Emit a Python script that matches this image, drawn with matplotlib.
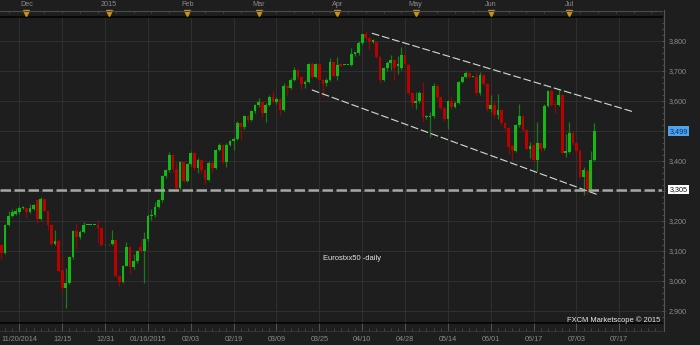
import matplotlib
matplotlib.use("Agg")
import matplotlib.pyplot as plt
import numpy as np
from matplotlib.lines import Line2D
from matplotlib.ticker import FixedLocator

# ---------------- data (daily OHLC, bar index 0 = 11/20/2014) ----------------
opens = [3120, 3094, 3187, 3217, 3224, 3231, 3243, 3243, 3230, 3241,
         3270, 3208, 3273, 3233, 3187, 3123, 3134, 3037, 2977, 2993,
         3080, 3167, 3147, 3163, 3187, 3187, 3187, 3187, 3178, 3122,
         3122, 3122, 3137, 3018, 2995, 3051, 3114, 3045, 3067, 3112,
         3100, 3140, 3217, 3220, 3248, 3270, 3350, 3370, 3420, 3373,
         3310, 3397, 3333, 3390, 3427, 3377, 3403, 3370, 3337, 3393,
         3377, 3437, 3453, 3397, 3453, 3467, 3473, 3527, 3513, 3550,
         3537, 3567, 3587, 3597, 3560, 3587, 3613, 3597, 3607, 3570,
         3650, 3643, 3670, 3703, 3680, 3657, 3664, 3723, 3680, 3723,
         3670, 3660, 3670, 3730, 3683, 3722, 3720, 3720, 3720, 3757,
         3760, 3792, 3822, 3810, 3797, 3797, 3747, 3670, 3710, 3727,
         3737, 3718, 3710, 3753, 3720, 3626, 3593, 3600, 3626, 3546,
         3547, 3549, 3651, 3612, 3576, 3540, 3600, 3580, 3593, 3664,
         3681, 3693, 3681, 3681, 3626, 3687, 3657, 3572, 3587, 3553,
         3570, 3528, 3509, 3450, 3434, 3520, 3550, 3503, 3440, 3453,
         3403, 3461, 3442, 3583, 3633, 3590, 3587, 3620, 3428, 3431,
         3494, 3460, 3434, 3348, 3368, 3306, 3403]
closes = [3094, 3187, 3217, 3230, 3233, 3243, 3246, 3230, 3243, 3253,
          3208, 3273, 3233, 3187, 3123, 3134, 3034, 2977, 2993, 3081,
          3167, 3147, 3163, 3187, 3187, 3187, 3187, 3177, 3120, 3122,
          3122, 3137, 3018, 2995, 3051, 3114, 3045, 3067, 3100, 3100,
          3140, 3217, 3220, 3248, 3270, 3350, 3370, 3420, 3373, 3310,
          3397, 3333, 3390, 3427, 3377, 3403, 3370, 3340, 3393, 3377,
          3437, 3453, 3397, 3453, 3467, 3473, 3527, 3513, 3550, 3537,
          3567, 3587, 3597, 3560, 3587, 3613, 3597, 3607, 3570, 3650,
          3643, 3670, 3703, 3680, 3657, 3664, 3723, 3680, 3723, 3670,
          3657, 3670, 3730, 3683, 3720, 3718, 3720, 3720, 3757, 3762,
          3793, 3822, 3810, 3797, 3803, 3747, 3670, 3710, 3727, 3737,
          3710, 3722, 3753, 3722, 3626, 3593, 3600, 3626, 3546, 3549,
          3550, 3651, 3613, 3576, 3540, 3600, 3580, 3593, 3664, 3681,
          3694, 3681, 3681, 3626, 3687, 3657, 3572, 3587, 3553, 3570,
          3526, 3509, 3448, 3435, 3520, 3550, 3503, 3440, 3450, 3403,
          3461, 3440, 3583, 3633, 3587, 3587, 3620, 3428, 3433, 3494,
          3460, 3433, 3348, 3370, 3306, 3403, 3499]
highs = [3125, 3190, 3233, 3240, 3245, 3250, 3250, 3248, 3257, 3258,
         3275, 3281, 3275, 3235, 3190, 3170, 3140, 3085, 3043, 3085,
         3170, 3193, 3170, 3197, 3188, 3188, 3188, 3203, 3180, 3123,
         3123, 3170, 3140, 3020, 3055, 3130, 3118, 3090, 3105, 3143,
         3164, 3225, 3240, 3262, 3275, 3355, 3375, 3430, 3425, 3397,
         3400, 3400, 3395, 3435, 3430, 3410, 3408, 3375, 3400, 3397,
         3440, 3460, 3458, 3460, 3470, 3481, 3535, 3530, 3555, 3553,
         3570, 3590, 3610, 3600, 3592, 3620, 3633, 3613, 3610, 3659,
         3655, 3677, 3713, 3707, 3685, 3670, 3727, 3730, 3727, 3727,
         3675, 3677, 3744, 3733, 3748, 3725, 3721, 3721, 3777, 3765,
         3800, 3825, 3835, 3815, 3808, 3800, 3750, 3715, 3732, 3753,
         3740, 3750, 3781, 3756, 3725, 3630, 3630, 3632, 3664, 3552,
         3565, 3660, 3655, 3615, 3580, 3605, 3617, 3600, 3668, 3685,
         3700, 3697, 3682, 3697, 3697, 3690, 3660, 3620, 3600, 3625,
         3575, 3530, 3512, 3453, 3525, 3590, 3555, 3507, 3464, 3456,
         3530, 3465, 3590, 3637, 3640, 3600, 3640, 3625, 3490, 3531,
         3500, 3465, 3440, 3380, 3375, 3432, 3528]
lows = [3073, 3090, 3183, 3212, 3220, 3225, 3240, 3210, 3228, 3238,
        3190, 3205, 3230, 3170, 3120, 3120, 3030, 2960, 2911, 2990,
        3075, 3107, 3140, 3160, 3186, 3186, 3186, 3127, 3118, 3121,
        3121, 3120, 3015, 2985, 2993, 3050, 3025, 3040, 3060, 3098,
        2994, 3135, 3205, 3215, 3245, 3265, 3345, 3365, 3360, 3308,
        3305, 3330, 3330, 3385, 3370, 3360, 3360, 3325, 3333, 3360,
        3373, 3433, 3390, 3381, 3450, 3437, 3470, 3470, 3508, 3530,
        3533, 3560, 3580, 3546, 3531, 3583, 3593, 3590, 3553, 3567,
        3620, 3640, 3668, 3675, 3640, 3643, 3660, 3677, 3677, 3667,
        3614, 3650, 3667, 3680, 3670, 3715, 3719, 3719, 3717, 3750,
        3755, 3788, 3805, 3770, 3793, 3745, 3660, 3668, 3700, 3705,
        3670, 3690, 3705, 3715, 3620, 3580, 3575, 3595, 3531, 3540,
        3481, 3545, 3605, 3570, 3535, 3507, 3575, 3577, 3590, 3660,
        3678, 3677, 3680, 3620, 3620, 3650, 3567, 3565, 3545, 3540,
        3520, 3505, 3425, 3403, 3430, 3515, 3500, 3437, 3409, 3398,
        3368, 3430, 3438, 3580, 3583, 3560, 3583, 3425, 3415, 3428,
        3455, 3425, 3345, 3287, 3290, 3300, 3400]

date_labels = ['11/20/2014', '12/15', '12/31', '01/16/2015', '02/03', '02/19',
               '03/09', '03/25', '04/10', '04/28', '05/14', '06/01', '06/17',
               '07/03', '07/17']
date_label_idx = [5, 17, 29, 41, 53, 65, 77, 89, 101, 113, 125, 137, 149, 161, 173]
month_labels = ['Dec', '2015', 'Feb', 'Mar', 'Apr', 'May', 'Jun', 'Jul']
month_idx = [7, 30, 52, 72, 94, 116, 137, 159]
price_levels = [2900, 3000, 3100, 3200, 3300, 3400, 3500, 3600, 3700, 3800]
support_level = 3305
last_price = 3499
upper_x, upper_y = [103.7, 176.9], [3826, 3564]
lower_x, lower_y = [86.9, 167.1], [3637, 3287]
title_text = 'Eurostxx50 -daily'
credit_text = 'FXCM Marketscope \u00a9 2015'

# ---------------- styling ----------------
BG = '#1e1e1e'
GRID = '#2f2f2f'
AXC = '#555555'
TXT = '#8c8c8c'
UP_BODY, DN_BODY = '#14b814', '#bb0000'
UP_WICK, DN_WICK = '#1c7a1c', '#8a0a0a'
FONT = ['Liberation Sans', 'DejaVu Sans']
plt.rcParams['font.family'] = FONT

W, H = 700, 345
fig = plt.figure(figsize=(W / 100, H / 100), dpi=100, facecolor=BG)

XL = (-0.42, 184.96)
plot_top, plot_bot, plot_right = 17, 323, 662

ax = fig.add_axes([0, 1 - plot_bot / H, plot_right / W, (plot_bot - plot_top) / H])
ax.set_facecolor(BG)
ax.set_xlim(*XL)
ax.set_ylim(2860, 3880)

o = np.array(opens, float)
c = np.array(closes, float)
hi = np.array(highs, float)
lo = np.array(lows, float)
idx = np.arange(len(o))
up = c >= o

ax.vlines(idx, lo, hi, colors=np.where(up, UP_WICK, DN_WICK), lw=0.9, zorder=2)
bottoms = np.minimum(o, c)
heights = np.maximum(np.abs(c - o), 2.5)
ax.bar(idx, heights, bottom=bottoms, width=0.76,
       color=np.where(up, UP_BODY, DN_BODY), edgecolor='none', zorder=3)

# channel lines and support
ax.plot(upper_x, upper_y, color='#cfe0cf', lw=0.8, dashes=(7, 2.5), zorder=4)
ax.plot(lower_x, lower_y, color='#cfe0cf', lw=0.8, dashes=(7, 2.5), zorder=4)
ax.axhline(support_level, color='#a6a6a6', lw=1.8, dashes=(4.2, 1.4), zorder=4)

# grid + axes styling
ax.set_xticks(date_label_idx)
ax.set_yticks(price_levels)
ax.grid(True, color=GRID, lw=0.8, zorder=0)
ax.set_axisbelow(True)
ax.tick_params(axis='x', length=0, labelbottom=False)
ax.yaxis.tick_right()
ax.set_yticklabels(['' if v in (3300, 3500) else f'{v:,}' for v in price_levels])
ax.yaxis.set_minor_locator(FixedLocator(np.arange(2880, 3880, 20)))
ax.tick_params(axis='y', which='major', direction='out', length=2.4, width=0.7,
               color=AXC, labelcolor=TXT, labelsize=5.2, pad=2.6)
ax.tick_params(axis='y', which='minor', direction='out', length=1.3, width=0.6, color=AXC)
for s in ('left', 'right'):
    ax.spines[s].set_visible(False)
for s in ('top', 'bottom'):
    ax.spines[s].set_color('#080808')
    ax.spines[s].set_linewidth(1.5)

# right axis vertical line
fig.add_artist(Line2D([663.5 / W, 663.5 / W], [1 - 10 / H, 1 - 331 / H],
                      color=AXC, lw=0.8))

# price boxes
ax.annotate(f'{last_price:,}', xy=(1, last_price), xycoords=ax.get_yaxis_transform(),
            xytext=(7.5, 0), textcoords='offset pixels', ha='left', va='center',
            fontsize=5.2, color='#0d2a55', annotation_clip=False, zorder=6,
            bbox=dict(boxstyle='square,pad=0.2', fc='#4da3f0', ec='none'))
ax.annotate(f'{support_level:,}', xy=(1, support_level), xycoords=ax.get_yaxis_transform(),
            xytext=(7.5, 0), textcoords='offset pixels', ha='left', va='center',
            fontsize=5.2, color='#101010', annotation_clip=False, zorder=6,
            bbox=dict(boxstyle='square,pad=0.2', fc='#ffffff', ec='none'))

# texts
ax.text(323 / plot_right, (plot_bot - 259) / (plot_bot - plot_top), title_text,
        transform=ax.transAxes, ha='left', va='center', color='#e6e6e6', fontsize=5.4)
ax.text(660 / plot_right, (plot_bot - 320.3) / (plot_bot - plot_top), credit_text,
        transform=ax.transAxes, ha='right', va='center', color='#e6e6e6', fontsize=5.4,
        clip_on=False, zorder=6)

# ---------------- top month strip ----------------
axt = fig.add_axes([0, 1 - plot_top / H, plot_right / W, (plot_top - 10.7) / H])
axt.set_facecolor('none')
axt.set_xlim(*XL)
axt.set_ylim(0, 1)
for s in ('left', 'right', 'bottom'):
    axt.spines[s].set_visible(False)
axt.spines['top'].set_color('#4a4a4a')
axt.spines['top'].set_linewidth(0.8)
axt.set_yticks([])
axt.set_xticks(month_idx)
axt.set_xticklabels(month_labels)
axt.xaxis.set_minor_locator(FixedLocator(np.arange(2, 185, 5)))
axt.tick_params(axis='x', which='major', top=True, bottom=False, labeltop=True,
                labelbottom=False, length=0, pad=1.6, labelsize=5.2, labelcolor=TXT)
axt.tick_params(axis='x', which='minor', top=True, bottom=False, direction='in',
                length=1.6, width=0.6, color='#4a4a4a')
axt.plot(month_idx, [0.68] * len(month_idx), marker='v', ls='none',
         color='#c8921e', ms=4.6, clip_on=False)

# ---------------- bottom date strip ----------------
axb = fig.add_axes([0, 1 - 334 / H, plot_right / W, (334 - 330.7) / H])
axb.set_facecolor('none')
axb.set_xlim(*XL)
axb.set_ylim(0, 1)
for s in ('left', 'right', 'bottom'):
    axb.spines[s].set_visible(False)
axb.spines['top'].set_color('#3a3a3a')
axb.spines['top'].set_linewidth(0.6)
axb.set_yticks([])
axb.set_xticks(date_label_idx)
axb.set_xticklabels(date_labels)
axb.xaxis.set_minor_locator(FixedLocator(np.arange(1, 185, 2)))
axb.tick_params(axis='x', which='major', top=True, bottom=False, direction='out',
                length=5.5, width=0.7, color=AXC, labelbottom=True, labeltop=False,
                pad=1.6 - 5.5, labelsize=5.2, labelcolor=TXT)
axb.tick_params(axis='x', which='minor', top=True, bottom=False, direction='out',
                length=2.4, width=0.6, color='#4a4a4a')

fig.savefig('out.png', dpi=100, facecolor=BG)
